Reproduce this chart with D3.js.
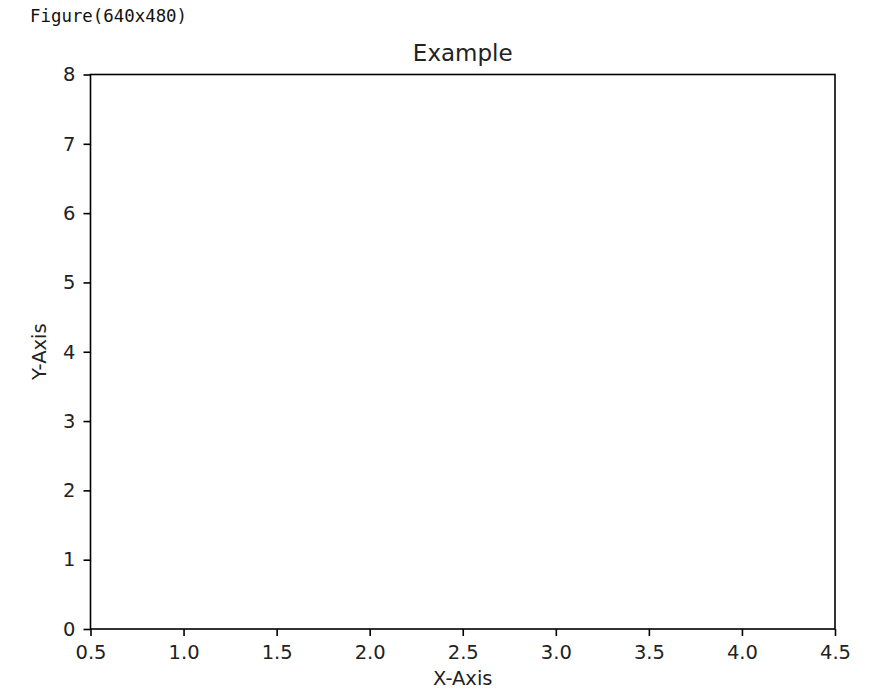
<!DOCTYPE html>
<html>
<head>
<meta charset="utf-8">
<script src="https://cdn.jsdelivr.net/npm/d3@7"></script>
<style>
  body { margin: 0; background: #fff; }
  svg text { font-family: "DejaVu Sans", sans-serif; fill: #222; }
</style>
</head>
<body>
<svg width="869" height="691"></svg>
<script>
// axis settings
const xDomain = [0.5, 4.5];
const yDomain = [0, 8];
const xTicks = [0.5, 1.0, 1.5, 2.0, 2.5, 3.0, 3.5, 4.0, 4.5];
const yTicks = [0, 1, 2, 3, 4, 5, 6, 7, 8];
const title = "Example";
const xLabel = "X-Axis";
const yLabel = "Y-Axis";
const caption = "Figure(640x480)";

const svg = d3.select("svg");
const m = { left: 90.5, right: 835, top: 74.5, bottom: 629 };

const x = d3.scaleLinear().domain(xDomain).range([m.left, m.right]);
const y = d3.scaleLinear().domain(yDomain).range([m.bottom, m.top]);

svg.append("text")
  .attr("x", 30).attr("y", 22)
  .style("font-family", "'DejaVu Sans Mono', monospace")
  .style("font-size", "17.4px")
  .style("fill", "#111")
  .text(caption);

const xAxis = svg.append("g")
  .attr("transform", `translate(0,${m.bottom})`)
  .call(d3.axisBottom(x).tickValues(xTicks).tickFormat(d3.format(".1f")).tickSize(7).tickPadding(9));

const yAxis = svg.append("g")
  .attr("transform", `translate(${m.left},0)`)
  .call(d3.axisLeft(y).tickValues(yTicks).tickFormat(d3.format("d")).tickSize(7).tickPadding(8));

[xAxis, yAxis].forEach(g => {
  g.select(".domain").remove();
  g.selectAll("line").attr("stroke", "#000").attr("stroke-width", 1.6);
  g.selectAll("text").style("font-size", "19.5px").style("font-family", "'DejaVu Sans', sans-serif").attr("fill", "#222");
});

// frame
svg.append("rect")
  .attr("x", m.left).attr("y", m.top)
  .attr("width", m.right - m.left).attr("height", m.bottom - m.top)
  .attr("fill", "none").attr("stroke", "#000").attr("stroke-width", 1.6);

svg.append("text")
  .attr("x", (m.left + m.right) / 2).attr("y", 61)
  .attr("text-anchor", "middle")
  .style("font-size", "23px")
  .text(title);

svg.append("text")
  .attr("x", (m.left + m.right) / 2).attr("y", 685)
  .attr("text-anchor", "middle")
  .style("font-size", "19.5px")
  .text(xLabel);

svg.append("text")
  .attr("transform", `translate(46,${(m.top + m.bottom) / 2}) rotate(-90)`)
  .attr("text-anchor", "middle")
  .style("font-size", "19.5px")
  .text(yLabel);
</script>
</body>
</html>
